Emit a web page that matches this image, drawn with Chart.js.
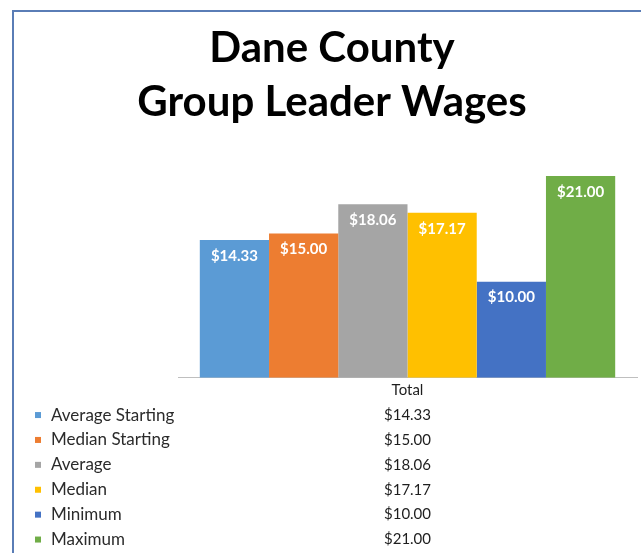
<!DOCTYPE html>
<html>
<head>
<meta charset="utf-8">
<script src="https://cdn.jsdelivr.net/npm/chart.js@4.4.0/dist/chart.umd.min.js"></script>
<style>
  html, body { margin: 0; padding: 0; background: #fff; }
  #wrap { position: relative; width: 641px; height: 553px; overflow: hidden; }
  #frame {
    position: absolute; left: 12px; top: 10px; width: 700px; height: 600px;
    border-left: 2px solid #5a7db6; border-top: 2px solid #5a7db6;
    pointer-events: none;
  }
</style>
</head>
<body>
<div id="wrap">
  <canvas id="chart" width="641" height="553"></canvas>
  <div id="frame"></div>
</div>
<script>
const categories = ['Total'];
const seriesNames = ['Average Starting', 'Median Starting', 'Average', 'Median', 'Minimum', 'Maximum'];
const wages = [14.33, 15.00, 18.06, 17.17, 10.00, 21.00];
const barColors = ['#5b9bd5', '#ed7d31', '#a5a5a5', '#ffc000', '#4472c4', '#70ad47'];
const titleLines = ['Dane County', 'Group Leader Wages'];

const ROW_H = 24.9;
const money = v => '$' + v.toFixed(2);

// white value labels just inside the top of each bar
const barLabels = {
  id: 'barLabels',
  afterDatasetsDraw(chart) {
    const ctx = chart.ctx;
    ctx.save();
    ctx.font = 'bold 15px Lato';
    ctx.fillStyle = '#fff';
    ctx.textAlign = 'center';
    ctx.textBaseline = 'middle';
    chart.data.datasets.forEach((ds, i) => {
      chart.getDatasetMeta(i).data.forEach((bar, j) => {
        ctx.fillText(money(ds.data[j]), bar.x, bar.y + 16);
      });
    });
    ctx.restore();
  }
};

// legend keys + series names for the data table rows under the axis
const tableKeys = {
  id: 'tableKeys',
  afterDraw(chart) {
    const ctx = chart.ctx;
    const xs = chart.scales.x;
    ctx.save();
    ctx.font = '17px Lato';
    ctx.textAlign = 'left';
    ctx.textBaseline = 'middle';
    chart.data.datasets.forEach((ds, i) => {
      const y = xs.top + ROW_H * (i + 1.5);
      ctx.fillStyle = ds.backgroundColor;
      ctx.fillRect(35, y - 3, 6, 6);
      ctx.fillStyle = '#2b2b2b';
      ctx.fillText(ds.label, 51, y);
    });
    ctx.restore();
  }
};

new Chart(document.getElementById('chart'), {
  type: 'bar',
  data: {
    labels: categories.map(c => [c].concat(wages.map(money))),
    datasets: seriesNames.map((name, i) => ({
      label: name,
      data: [wages[i]],
      backgroundColor: barColors[i],
      borderWidth: 0,
      barPercentage: 1,
      categoryPercentage: 0.905,
    })),
  },
  options: {
    responsive: false,
    animation: false,
    layout: { padding: { left: 27, right: 4, top: 0, bottom: 1 } },
    plugins: {
      legend: { display: false },
      tooltip: { enabled: false },
      title: {
        display: true,
        text: titleLines,
        color: '#000',
        font: { family: 'Lato', weight: 'bold', size: 42, lineHeight: 1.29 },
        padding: { top: 21, bottom: 37 },
      },
    },
    scales: {
      x: {
        grid: { display: false, drawTicks: false },
        border: { display: true, color: '#bfbfbf', width: 1 },
        ticks: {
          color: '#1e1e1e',
          padding: 0,
          font: { family: 'Lato', size: 15, lineHeight: ROW_H + 'px' },
        },
      },
      y: {
        min: 0,
        max: 22,
        grid: { display: false, drawTicks: false },
        border: { display: false },
        ticks: { display: false },
        // empty strip left of the plot, where the table names sit
        afterFit: s => { s.width = 151; },
      },
    },
  },
  plugins: [barLabels, tableKeys],
});
</script>
</body>
</html>
